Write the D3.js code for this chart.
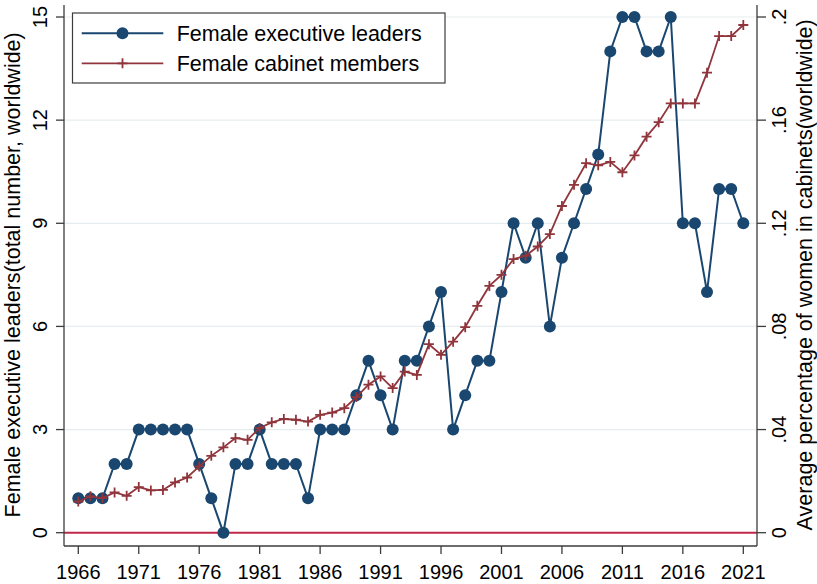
<!DOCTYPE html>
<html>
<head>
<meta charset="utf-8">
<script src="https://cdn.jsdelivr.net/npm/d3@7"></script>
<style>
  html, body { margin: 0; padding: 0; background: #fff; }
  svg { display: block; font-family: "Liberation Sans", Arial, sans-serif; }
</style>
</head>
<body>
<svg id="chart" width="817" height="584"></svg>
<script>
const years = [1966, 1967, 1968, 1969, 1970, 1971, 1972, 1973, 1974, 1975,
  1976, 1977, 1978, 1979, 1980, 1981, 1982, 1983, 1984, 1985,
  1986, 1987, 1988, 1989, 1990, 1991, 1992, 1993, 1994, 1995,
  1996, 1997, 1998, 1999, 2000, 2001, 2002, 2003, 2004, 2005,
  2006, 2007, 2008, 2009, 2010, 2011, 2012, 2013, 2014, 2015,
  2016, 2017, 2018, 2019, 2020, 2021]

const leaders = [1, 1, 1, 2, 2, 3, 3, 3, 3, 3,
  2, 1, 0, 2, 2, 3, 2, 2, 2, 1,
  3, 3, 3, 4, 5, 4, 3, 5, 5, 6,
  7, 3, 4, 5, 5, 7, 9, 8, 9, 6,
  8, 9, 10, 11, 14, 15, 15, 14, 14, 15,
  9, 9, 7, 10, 10, 9]

const cabinet = [0.0121, 0.0141, 0.0134, 0.0156, 0.0143, 0.0177, 0.0164, 0.0166, 0.0195, 0.0214,
  0.0257, 0.0298, 0.0331, 0.0367, 0.0360, 0.0406, 0.0428, 0.0441, 0.0438, 0.0431,
  0.0457, 0.0466, 0.0483, 0.0526, 0.0574, 0.0606, 0.0561, 0.0625, 0.0612, 0.0731,
  0.0690, 0.0741, 0.0797, 0.0880, 0.0957, 0.1000, 0.1061, 0.1074, 0.1110, 0.1158,
  0.1267, 0.1349, 0.1433, 0.1425, 0.1438, 0.1398, 0.1463, 0.1536, 0.1592, 0.1665,
  0.1665, 0.1665, 0.1784, 0.1926, 0.1926, 0.1969]

const xTicks = [1966, 1971, 1976, 1981, 1986, 1991, 1996, 2001, 2006, 2011, 2016, 2021]
const leftTicks = [0, 3, 6, 9, 12, 15]
const rightTicks = [0, 0.04, 0.08, 0.12, 0.16, 0.2]
const rightTickLabels = ["0", ".04", ".08", ".12", ".16", ".2"]

const seriesNames = ["Female executive leaders", "Female cabinet members"]
const leftTitle = "Female executive leaders(total number, worldwide)"
const rightTitle = "Average percentage of women in cabinets(worldwide)"

const config = {
  frame: { left: 64, right: 757, top: 5, bottom: 546 },
  xRange: [78.3, 743.3],
  yRange: [532.7, 17],
  blue: "#1a476f",
  red: "#90353b",
  zeroLine: "#c0284a",
  grid: "#e6edf0",
  axis: "#3c3c3c",
  tickFont: 20,
  titleFont: 21.5
}

const svg = d3.select("#chart")

const xScale = d3.scaleLinear().domain([1966, 2021]).range(config.xRange)
const yLeft = d3.scaleLinear().domain([0, 15]).range(config.yRange)
const yRight = d3.scaleLinear().domain([0, 0.2]).range(config.yRange)

const f = config.frame

// gridlines
svg.append("g")
  .selectAll("line")
  .data(leftTicks.filter(d => d > 0))
  .join("line")
  .attr("x1", f.left).attr("x2", f.right)
  .attr("y1", d => yLeft(d)).attr("y2", d => yLeft(d))
  .attr("stroke", config.grid)
  .attr("stroke-width", 1.2)

// zero line
svg.append("line")
  .attr("x1", f.left).attr("x2", f.right)
  .attr("y1", yLeft(0)).attr("y2", yLeft(0))
  .attr("stroke", config.zeroLine)
  .attr("stroke-width", 2)

// axes lines
const axisG = svg.append("g")
  .attr("stroke", config.axis)
  .attr("stroke-width", 1.3)
axisG.append("line").attr("x1", f.left).attr("x2", f.left).attr("y1", f.top).attr("y2", f.bottom)
axisG.append("line").attr("x1", f.right).attr("x2", f.right).attr("y1", f.top).attr("y2", f.bottom)
axisG.append("line").attr("x1", f.left).attr("x2", f.right).attr("y1", f.bottom).attr("y2", f.bottom)

// x axis
const xAxis = svg.append("g")
xAxis.selectAll("line")
  .data(xTicks)
  .join("line")
  .attr("x1", d => xScale(d)).attr("x2", d => xScale(d))
  .attr("y1", f.bottom).attr("y2", f.bottom + 8)
  .attr("stroke", config.axis)
  .attr("stroke-width", 1.3)
xAxis.selectAll("text")
  .data(xTicks)
  .join("text")
  .attr("x", d => xScale(d))
  .attr("y", 578.5)
  .attr("text-anchor", "middle")
  .attr("font-size", config.tickFont)
  .attr("fill", "#000")
  .text(d => d)

// left axis
const leftAxis = svg.append("g")
leftAxis.selectAll("line")
  .data(leftTicks)
  .join("line")
  .attr("x1", f.left - 8).attr("x2", f.left)
  .attr("y1", d => yLeft(d)).attr("y2", d => yLeft(d))
  .attr("stroke", config.axis)
  .attr("stroke-width", 1.3)
leftAxis.selectAll("text")
  .data(leftTicks)
  .join("text")
  .attr("transform", d => `translate(47, ${yLeft(d)}) rotate(-90)`)
  .attr("text-anchor", "middle")
  .attr("font-size", config.tickFont)
  .attr("fill", "#000")
  .text(d => d)

svg.append("text")
  .attr("transform", `translate(20, ${(config.yRange[0] + config.yRange[1]) / 2}) rotate(-90)`)
  .attr("text-anchor", "middle")
  .attr("font-size", config.titleFont)
  .attr("fill", "#000")
  .text(leftTitle)

// right axis
const rightAxis = svg.append("g")
rightAxis.selectAll("line")
  .data(rightTicks)
  .join("line")
  .attr("x1", f.right).attr("x2", f.right + 9)
  .attr("y1", d => yRight(d)).attr("y2", d => yRight(d))
  .attr("stroke", config.axis)
  .attr("stroke-width", 1.3)
rightAxis.selectAll("text")
  .data(rightTicks)
  .join("text")
  .attr("transform", d => `translate(786, ${yRight(d)}) rotate(-90)`)
  .attr("text-anchor", "middle")
  .attr("font-size", config.tickFont)
  .attr("fill", "#000")
  .text((d, i) => rightTickLabels[i])

svg.append("text")
  .attr("transform", `translate(811.5, ${(config.yRange[0] + config.yRange[1]) / 2}) rotate(-90)`)
  .attr("text-anchor", "middle")
  .attr("font-size", config.titleFont)
  .attr("fill", "#000")
  .text(rightTitle)

// leaders series
const leaderLine = d3.line()
  .x((d, i) => xScale(years[i]))
  .y(d => yLeft(d))

svg.append("path")
  .attr("d", leaderLine(leaders))
  .attr("fill", "none")
  .attr("stroke", config.blue)
  .attr("stroke-width", 2)

svg.append("g")
  .selectAll("circle")
  .data(leaders)
  .join("circle")
  .attr("cx", (d, i) => xScale(years[i]))
  .attr("cy", d => yLeft(d))
  .attr("r", 6)
  .attr("fill", config.blue)

// cabinet series
const cabinetLine = d3.line()
  .x((d, i) => xScale(years[i]))
  .y(d => yRight(d))

svg.append("path")
  .attr("d", cabinetLine(cabinet))
  .attr("fill", "none")
  .attr("stroke", config.red)
  .attr("stroke-width", 1.8)

const plusSize = 5
svg.append("g")
  .selectAll("path")
  .data(cabinet)
  .join("path")
  .attr("d", (d, i) => {
    const x = xScale(years[i])
    const y = yRight(d)
    return `M${x - plusSize},${y}H${x + plusSize}M${x},${y - plusSize}V${y + plusSize}`
  })
  .attr("stroke", config.red)
  .attr("stroke-width", 1.8)
  .attr("fill", "none")

// legend
const legend = svg.append("g")
legend.append("rect")
  .attr("x", 72.5).attr("y", 13)
  .attr("width", 372.5).attr("height", 70)
  .attr("fill", "#fff")
  .attr("stroke", config.axis)
  .attr("stroke-width", 1.2)

const legendRows = legend.selectAll("g.row")
  .data(seriesNames)
  .join("g")
  .attr("class", "row")
  .attr("transform", (d, i) => `translate(0, ${33.3 + i * 30})`)

legendRows.append("line")
  .attr("x1", 81.7).attr("x2", 163.3)
  .attr("y1", 0).attr("y2", 0)
  .attr("stroke", (d, i) => i === 0 ? config.blue : config.red)
  .attr("stroke-width", (d, i) => i === 0 ? 2 : 1.8)

legendRows.filter((d, i) => i === 0)
  .append("circle")
  .attr("cx", 122.5).attr("cy", 0).attr("r", 6)
  .attr("fill", config.blue)

legendRows.filter((d, i) => i === 1)
  .append("path")
  .attr("d", `M${122.5 - plusSize},0H${122.5 + plusSize}M122.5,${-plusSize}V${plusSize}`)
  .attr("stroke", config.red)
  .attr("stroke-width", 1.8)

legendRows.append("text")
  .attr("x", 176.7)
  .attr("y", 7.5)
  .attr("font-size", config.titleFont)
  .attr("fill", "#000")
  .text(d => d)
</script>
</body>
</html>
